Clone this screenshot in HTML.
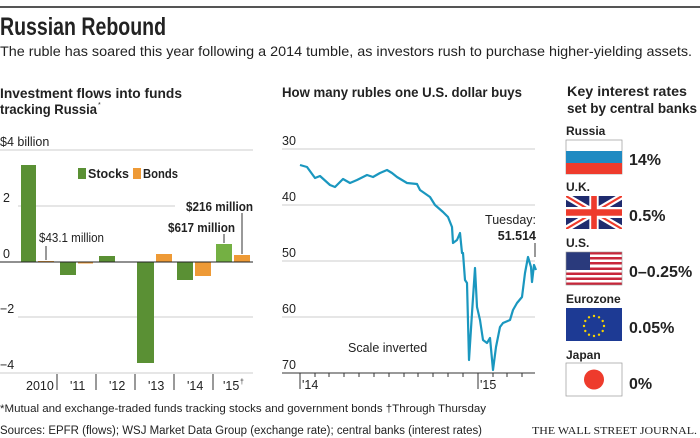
<!DOCTYPE html>
<html><head><meta charset="utf-8"><style>
body{margin:0;background:#fff}
svg{display:block}
text{font-family:"Liberation Sans",sans-serif;fill:#222}
.b{font-weight:bold}
</style></head><body>
<svg width="700" height="438" viewBox="0 0 700 438" xmlns="http://www.w3.org/2000/svg">
<rect x="0" y="6" width="700" height="2" fill="#555"/>
<text x="0" y="35" class="b" font-size="25" textLength="166" lengthAdjust="spacingAndGlyphs">Russian Rebound</text>
<text x="0" y="56" font-size="14" textLength="692" lengthAdjust="spacingAndGlyphs">The ruble has soared this year following a 2014 tumble, as investors rush to purchase higher-yielding assets.</text>

<!-- Left chart -->
<text x="0" y="98" class="b" font-size="14" textLength="182" lengthAdjust="spacingAndGlyphs">Investment flows into funds</text>
<text x="0" y="114" class="b" font-size="14" textLength="97" lengthAdjust="spacingAndGlyphs">tracking Russia</text>
<text x="98" y="107" font-size="7" fill="#666">*</text>
<text x="0" y="146" font-size="12.5">$4 billion</text>
<g stroke="#ccc" stroke-width="1">
<line x1="0" y1="150" x2="253" y2="150"/>
<line x1="18" y1="206" x2="175" y2="206"/>
<line x1="18" y1="317" x2="253" y2="317"/>
<line x1="0" y1="373" x2="253" y2="373"/>
</g>
<text x="3" y="202" font-size="12.5">2</text>
<text x="3" y="258" font-size="12.5">0</text>
<text x="0" y="313" font-size="12.5">−2</text>
<text x="0" y="369" font-size="12.5">−4</text>
<g fill="#5a9034">
<rect x="21" y="165" width="15" height="97"/>
<rect x="60" y="262" width="16" height="13"/>
<rect x="99" y="256" width="16" height="6"/>
<rect x="137" y="262" width="17" height="101"/>
<rect x="177" y="262" width="16" height="18"/>
</g>
<rect x="216" y="244" width="16" height="18" fill="#74b043"/>
<g fill="#ee9a36">
<rect x="38" y="261" width="16" height="1.5"/>
<rect x="78" y="262" width="15" height="1.5"/>
<rect x="156" y="254" width="16" height="8"/>
<rect x="195" y="262" width="16" height="14"/>
<rect x="234" y="255" width="16" height="7"/>
</g>
<line x1="0" y1="262" x2="253" y2="262" stroke="#222" stroke-width="1"/>
<rect x="78" y="168" width="8" height="11" fill="#5a9034"/>
<text x="88" y="178" class="b" font-size="13" textLength="41" lengthAdjust="spacingAndGlyphs">Stocks</text>
<rect x="133" y="168" width="8" height="11" fill="#ee9a36"/>
<text x="143" y="178" class="b" font-size="13" textLength="35" lengthAdjust="spacingAndGlyphs">Bonds</text>
<text x="39" y="242" font-size="12.5" textLength="65" lengthAdjust="spacingAndGlyphs">$43.1 million</text>
<line x1="46" y1="246" x2="46" y2="260" stroke="#333"/>
<text x="168" y="232" class="b" font-size="12.5" textLength="67" lengthAdjust="spacingAndGlyphs">$617 million</text>
<line x1="224" y1="234" x2="224" y2="243" stroke="#333"/>
<text x="186" y="211" class="b" font-size="12.5" textLength="67" lengthAdjust="spacingAndGlyphs">$216 million</text>
<line x1="242" y1="213" x2="242" y2="254" stroke="#333"/>
<g stroke="#333"><line x1="57" y1="374" x2="57" y2="390"/><line x1="96" y1="374" x2="96" y2="390"/><line x1="135" y1="374" x2="135" y2="390"/><line x1="174" y1="374" x2="174" y2="390"/><line x1="213" y1="374" x2="213" y2="390"/></g>
<g font-size="12.5"><text x="26" y="390">2010</text><text x="70" y="390">'11</text><text x="109" y="390">'12</text><text x="148" y="390">'13</text><text x="187" y="390">'14</text><text x="223" y="390">'15</text><text x="240" y="384" font-size="7">†</text></g>

<!-- Middle chart -->
<text x="282" y="97" class="b" font-size="14" textLength="240" lengthAdjust="spacingAndGlyphs">How many rubles one U.S. dollar buys</text>
<g stroke="#ccc"><line x1="282" y1="149" x2="535" y2="149"/><line x1="282" y1="205" x2="535" y2="205"/><line x1="282" y1="261" x2="535" y2="261"/><line x1="282" y1="317" x2="535" y2="317"/></g>
<line x1="282" y1="373" x2="535" y2="373" stroke="#333"/>
<g font-size="12.5"><text x="282" y="145">30</text><text x="282" y="201">40</text><text x="282" y="257">50</text><text x="282" y="313">60</text><text x="282" y="369">70</text></g>
<g stroke="#333"><line x1="300" y1="373" x2="300" y2="389"/><line x1="478" y1="373" x2="478" y2="389"/>
<line x1="315" y1="373" x2="315" y2="377"/><line x1="329" y1="373" x2="329" y2="377"/><line x1="344" y1="373" x2="344" y2="377"/><line x1="359" y1="373" x2="359" y2="377"/><line x1="374" y1="373" x2="374" y2="377"/><line x1="389" y1="373" x2="389" y2="377"/><line x1="404" y1="373" x2="404" y2="377"/><line x1="418" y1="373" x2="418" y2="377"/><line x1="433" y1="373" x2="433" y2="377"/><line x1="448" y1="373" x2="448" y2="377"/><line x1="463" y1="373" x2="463" y2="377"/><line x1="493" y1="373" x2="493" y2="377"/><line x1="507" y1="373" x2="507" y2="377"/><line x1="522" y1="373" x2="522" y2="377"/></g>
<text x="302" y="389" font-size="12.5">'14</text><text x="480" y="389" font-size="12.5">'15</text>
<text x="348" y="352" font-size="12.5">Scale inverted</text>
<text x="536" y="224" font-size="12.5" text-anchor="end">Tuesday:</text>
<text x="536" y="240" font-size="12.5" class="b" text-anchor="end">51.514</text>
<line x1="535" y1="243" x2="535" y2="257" stroke="#333"/>
<polyline fill="none" stroke="#1a97bf" stroke-width="2.2" stroke-linejoin="round" points="300,165 307,167 315,178 320,176 330,185 335,187 343,179 350,183 357,180 367,175 373,177 380,173 387,170 392,173 397,177 407,183 417,184 420,190 430,197 435,205 443,212 448,217 452,227 453,243 457,240 460,233 462,253 463,253 465,280 467,283 469,360 472,313 475,268 477,307 480,320 483,340 487,343 490,338 493,370 496,347 500,327 503,323 510,320 513,310 517,303 522,297 525,273 528,257 531,267 532,282 534,265 536,270"/>

<!-- Right panel -->
<text x="567" y="96" class="b" font-size="14" textLength="120" lengthAdjust="spacingAndGlyphs">Key interest rates</text>
<text x="567" y="113" class="b" font-size="14" textLength="130" lengthAdjust="spacingAndGlyphs">set by central banks</text>
<g font-size="12" class="b">
<text x="566" y="135" class="b">Russia</text>
<text x="566" y="191" class="b">U.K.</text>
<text x="566" y="247" class="b">U.S.</text>
<text x="566" y="303" class="b">Eurozone</text>
<text x="566" y="359" class="b">Japan</text>
</g>
<g font-size="16" class="b">
<text x="629" y="165" class="b">14%</text>
<text x="629" y="221" class="b">0.5%</text>
<text x="629" y="277" class="b">0–0.25%</text>
<text x="629" y="333" class="b">0.05%</text>
<text x="629" y="389" class="b">0%</text>
</g>
<!-- Russia -->
<rect x="566" y="140" width="56" height="34" fill="#fff" stroke="#999" stroke-width="0.7"/>
<rect x="566" y="151" width="56" height="12" fill="#1f8ac2"/>
<rect x="566" y="163" width="56" height="11" fill="#ee3b2c"/>
<!-- UK -->
<svg x="566" y="196" width="56" height="33" viewBox="0 0 60 30" preserveAspectRatio="none">
<rect width="60" height="30" fill="#1f2b6e"/>
<path d="M0,0 L60,30 M60,0 L0,30" stroke="#fff" stroke-width="6"/>
<path d="M0,0 L60,30 M60,0 L0,30" stroke="#ee3b2c" stroke-width="2"/>
<path d="M30,0 V30 M0,15 H60" stroke="#fff" stroke-width="10"/>
<path d="M30,0 V30 M0,15 H60" stroke="#ee3b2c" stroke-width="6"/>
</svg>
<!-- US -->
<rect x="566" y="252" width="56" height="33" fill="#fff"/>
<g fill="#c8263a">
<rect x="566" y="252" width="56" height="2.5"/><rect x="566" y="257" width="56" height="2.5"/><rect x="566" y="262" width="56" height="2.5"/><rect x="566" y="267.5" width="56" height="2.5"/><rect x="566" y="272.5" width="56" height="2.5"/><rect x="566" y="277.5" width="56" height="2.5"/><rect x="566" y="282.5" width="56" height="2.5"/>
</g>
<rect x="566" y="252" width="24" height="18" fill="#2a3a7c"/>
<rect x="566" y="252" width="56" height="33" fill="none" stroke="#999" stroke-width="0.6"/>
<!-- EU -->
<rect x="566" y="308" width="56" height="33" fill="#1d3a94"/>
<g fill="#f5d300">
<circle cx="594" cy="316" r="1.2"/><circle cx="599" cy="317.3" r="1.2"/><circle cx="602.7" cy="321" r="1.2"/><circle cx="604" cy="326" r="1.2"/><circle cx="602.7" cy="331" r="1.2"/><circle cx="599" cy="334.7" r="1.2"/><circle cx="594" cy="336" r="1.2"/><circle cx="589" cy="334.7" r="1.2"/><circle cx="585.3" cy="331" r="1.2"/><circle cx="584" cy="326" r="1.2"/><circle cx="585.3" cy="321" r="1.2"/><circle cx="589" cy="317.3" r="1.2"/>
</g>
<!-- Japan -->
<rect x="566" y="363" width="56" height="33" fill="#fff" stroke="#999" stroke-width="0.7"/>
<circle cx="594" cy="379.5" r="10" fill="#ee3b2c"/>

<!-- footer -->
<text x="0" y="412" font-size="11" fill="#444" textLength="486" lengthAdjust="spacingAndGlyphs">*Mutual and exchange-traded funds tracking stocks and government bonds     †Through Thursday</text>
<text x="0" y="434" font-size="11.5" fill="#444" textLength="482" lengthAdjust="spacingAndGlyphs">Sources: EPFR (flows); WSJ Market Data Group (exchange rate); central banks (interest rates)</text>
<text x="697" y="434" font-size="11" text-anchor="end" style="font-family:'Liberation Serif',serif" textLength="165" lengthAdjust="spacingAndGlyphs">THE WALL STREET JOURNAL.</text>
</svg>
</body></html>
